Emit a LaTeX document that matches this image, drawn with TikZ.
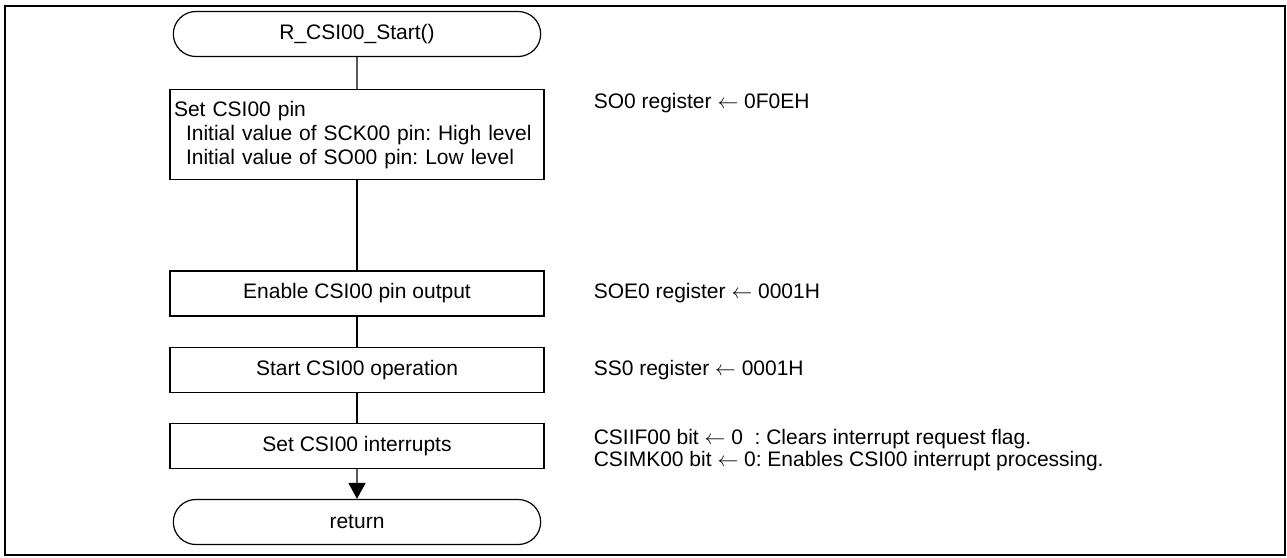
\documentclass[tikz,border=0pt]{standalone}
\usepackage{fontspec}
\setmainfont{Liberation Sans}
\usepackage{tikz}
\usetikzlibrary{shapes.misc, arrows.meta, positioning}
\frenchspacing
\tikzstyle{line} = [line width=1.2pt]
\tikzstyle{arrow} = [line width=1.2pt,-{Triangle[width=17pt,length=16pt]}]
\tikzstyle{process} = [rectangle, minimum width=374pt, minimum height=45pt, text centered, draw=black, line width=1.2pt]
\tikzstyle{terminal} = [rounded rectangle, minimum width=374pt, minimum height=45pt, text centered, draw=black, line width=1.2pt]
\tikzstyle{note} = [align=left, inner sep=0pt]
\newcommand{\setto}{$\leftarrow$}

\begin{document}
\begin{tikzpicture}[node distance=30pt, font=\fontsize{21}{22}\selectfont]

\useasboundingbox (0,0) rectangle (1287pt,-557pt);
\draw [line width=1.4pt] (5pt,-6pt) rectangle (1285pt,-555pt);

% Flow
\node (start) [terminal] at (357pt,-34pt) {R\_CSI00\_Start()};
\node (setpin) [process, below=32pt of start, minimum height=90pt, text width=366pt, inner xsep=4pt, align=left, font=\fontsize{21}{24}\selectfont] {Set CSI00 pin\\
\hspace*{12pt}Initial value of SCK00 pin: High level\\
\hspace*{12pt}Initial value of SO00 pin: Low level};
\node (enout) [process, below=90pt of setpin] {Enable CSI00 pin output};
\node (startop) [process, below=of enout] {Start CSI00 operation};
\node (setint) [process, below=of startop] {Set CSI00 interrupts};
\node (ret) [terminal, below=of setint] {return};

% Register notes
\node (sonote) [note, right=49pt of setpin.north east, yshift=-14pt] {SO0 register \setto{} 0F0EH};
\node (soenote) [note, right=49pt of enout] {SOE0 register \setto{} 0001H};
\node (ssnote) [note, right=49pt of startop] {SS0 register \setto{} 0001H};
\node (intnote) [note, right=49pt of setint, yshift=-4pt] {CSIIF00 bit \setto{} 0\ \ : Clears interrupt request flag.\\
CSIMK00 bit \setto{} 0: Enables CSI00 interrupt processing.};

% Connections
\draw [line] (start) -- (setpin);
\draw [line] (setpin) -- (enout);
\draw [line] (enout) -- (startop);
\draw [line] (startop) -- (setint);
\draw [arrow] (setint) -- (ret);

\end{tikzpicture}
\end{document}
